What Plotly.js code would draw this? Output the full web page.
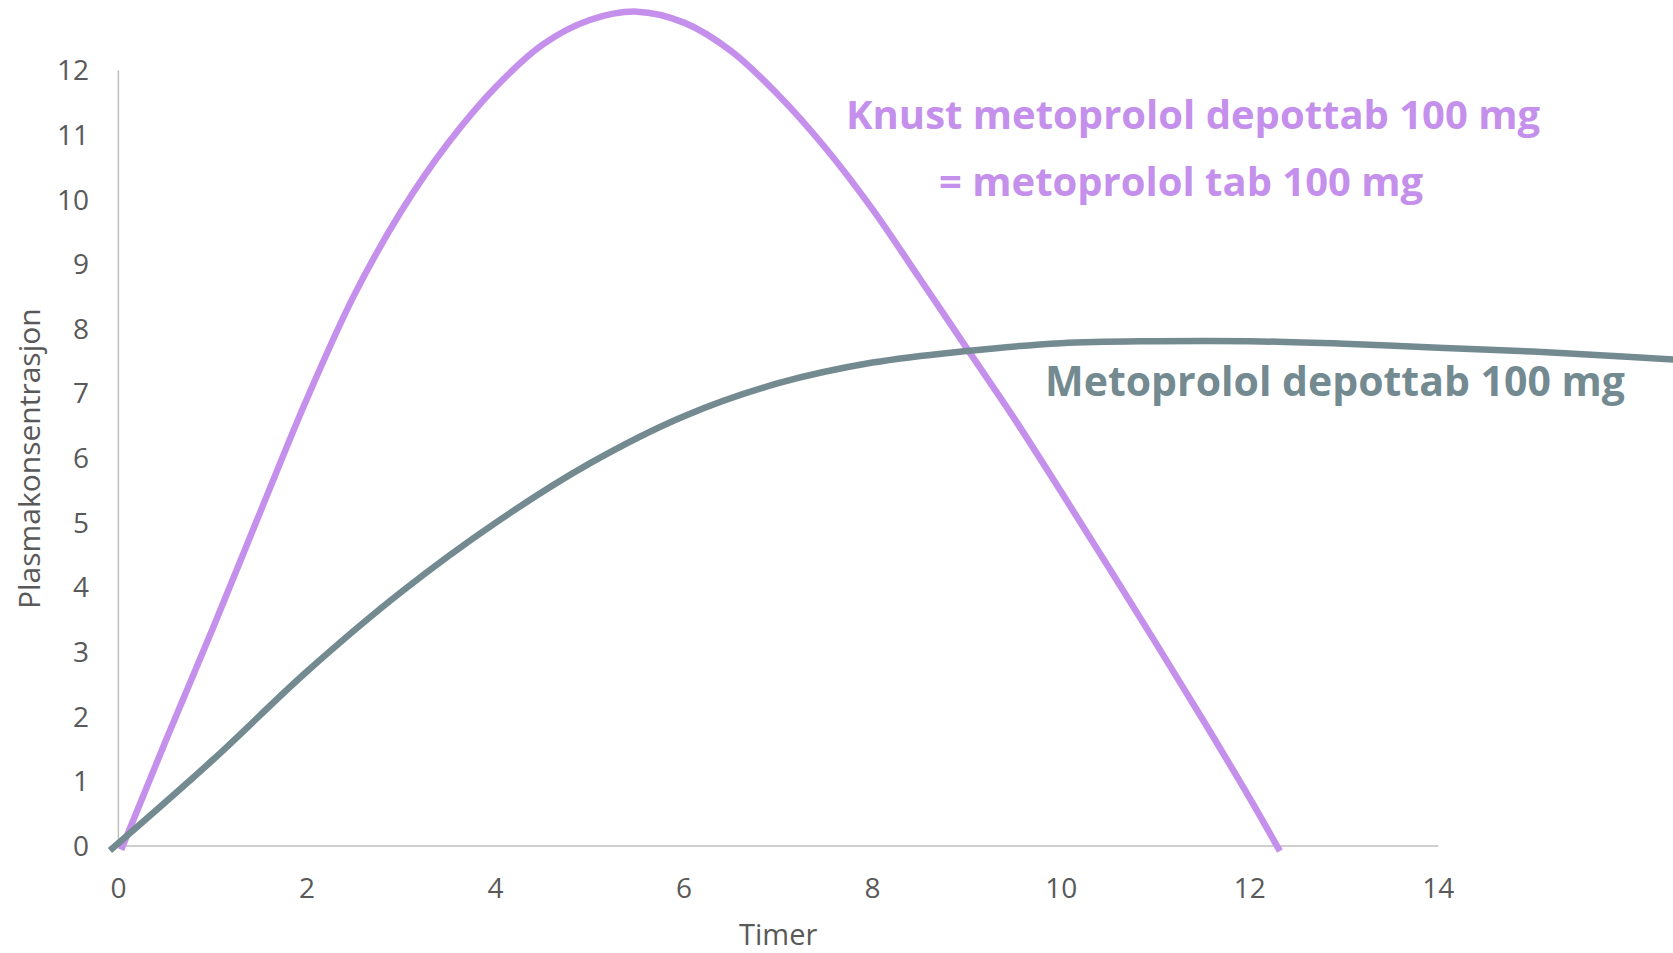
<!DOCTYPE html>
<html>
<head>
<meta charset="utf-8">
<script src="https://cdn.plot.ly/plotly-3.0.1.min.js"></script>
<style>
  html, body { margin: 0; padding: 0; background: #ffffff; }
  #chart { width: 1673px; height: 953px; }
</style>
</head>
<body>
<div id="chart"></div>
<script>
// Knust metoprolol depottab 100 mg = metoprolol tab 100 mg (purple)
const knustTimer = [0.03, 0.5, 1.0, 1.5, 2.0, 2.5, 3.0, 3.5, 4.0, 4.5, 5.0, 5.5, 6.0, 6.5, 7.0, 7.5, 8.0, 8.5, 9.0, 9.5, 10.0, 10.5, 11.0, 11.5, 12.0, 12.32];
const knustKons  = [-0.06, 1.62, 3.36, 5.15, 6.92, 8.52, 9.82, 10.88, 11.74, 12.40, 12.78, 12.91, 12.74, 12.30, 11.62, 10.80, 9.85, 8.78, 7.70, 6.62, 5.48, 4.32, 3.15, 1.96, 0.74, -0.08];

// Metoprolol depottab 100 mg (grey)
const depotTimer = [-0.09, 1, 2, 3, 4, 5, 6, 7, 8, 9, 10, 11, 12, 13, 14, 15, 16, 16.6];
const depotKons  = [-0.07, 1.33, 2.70, 3.93, 5.00, 5.92, 6.65, 7.16, 7.48, 7.66, 7.78, 7.81, 7.81, 7.77, 7.71, 7.65, 7.57, 7.52];

const xTicks = [0, 2, 4, 6, 8, 10, 12, 14];
const yTicks = [0, 1, 2, 3, 4, 5, 6, 7, 8, 9, 10, 11, 12];

const labelKnust1 = 'Knust metoprolol depottab 100 mg';
const labelKnust2 = '= metoprolol tab 100 mg';
const labelDepot = 'Metoprolol depottab 100 mg';
const xTitle = 'Timer';
const yTitle = 'Plasmakonsentrasjon';

const purple = '#C490EC';
const grey = '#748A91';
const axisGrey = '#BFBFBF';
const textGrey = '#595959';
const font = '"Open Sans", "Noto Sans", sans-serif';

const traces = [
  {
    x: knustTimer, y: knustKons, type: 'scatter', mode: 'lines',
    line: { color: purple, width: 6.5, shape: 'spline', smoothing: 1 },
    hoverinfo: 'skip', showlegend: false
  },
  {
    x: depotTimer, y: depotKons, type: 'scatter', mode: 'lines',
    line: { color: grey, width: 6.5, shape: 'spline', smoothing: 1 },
    hoverinfo: 'skip', showlegend: false
  }
];

const layout = {
  width: 1673, height: 953,
  margin: { l: 100, r: 0, t: 0, b: 93 },
  paper_bgcolor: '#ffffff', plot_bgcolor: '#ffffff',
  showlegend: false,
  xaxis: {
    range: [-0.195, 16.49],
    tickvals: xTicks, ticktext: xTicks.map(String),
    showgrid: false, zeroline: false, showline: false, ticks: '',
    ticklabelstandoff: 9,
    tickfont: { family: font, size: 28, color: textGrey },
    fixedrange: true
  },
  yaxis: {
    range: [-0.217, 13.09],
    tickvals: yTicks, ticktext: yTicks.map(String),
    showgrid: false, zeroline: false, showline: false, ticks: '',
    ticklabelstandoff: 10,
    tickfont: { family: font, size: 28, color: textGrey },
    fixedrange: true
  },
  shapes: [
    { type: 'line', layer: 'below', xref: 'x', yref: 'y',
      x0: xTicks[0], x1: xTicks[xTicks.length - 1], y0: yTicks[0], y1: yTicks[0],
      line: { color: axisGrey, width: 1.5 } },
    { type: 'line', layer: 'below', xref: 'x', yref: 'y',
      x0: xTicks[0], x1: xTicks[0], y0: yTicks[0], y1: yTicks[yTicks.length - 1],
      line: { color: axisGrey, width: 1.5 } }
  ],
  annotations: [
    { text: labelKnust1, xref: 'x', yref: 'y', x: 11.40, y: 11.33,
      xanchor: 'center', yanchor: 'middle', showarrow: false,
      font: { family: font, size: 40, color: purple, weight: 'bold' } },
    { text: labelKnust2, xref: 'x', yref: 'y', x: 11.28, y: 10.29,
      xanchor: 'center', yanchor: 'middle', showarrow: false,
      font: { family: font, size: 40, color: purple, weight: 'bold' } },
    { text: labelDepot, xref: 'x', yref: 'y', x: 12.90, y: 7.21,
      xanchor: 'center', yanchor: 'middle', showarrow: false,
      font: { family: font, size: 41, color: grey, weight: 'bold' } },
    { text: xTitle, xref: 'x', yref: 'paper', x: 7, y: -0.085,
      xanchor: 'center', yanchor: 'middle', showarrow: false,
      font: { family: font, size: 29, color: textGrey } },
    { text: yTitle, xref: 'paper', yref: 'paper', x: -0.0451, y: 0.4663,
      xanchor: 'center', yanchor: 'middle', showarrow: false, textangle: -90,
      font: { family: font, size: 30, color: textGrey } }
  ]
};

Plotly.newPlot('chart', traces, layout, { staticPlot: true, displayModeBar: false });
</script>
</body>
</html>
